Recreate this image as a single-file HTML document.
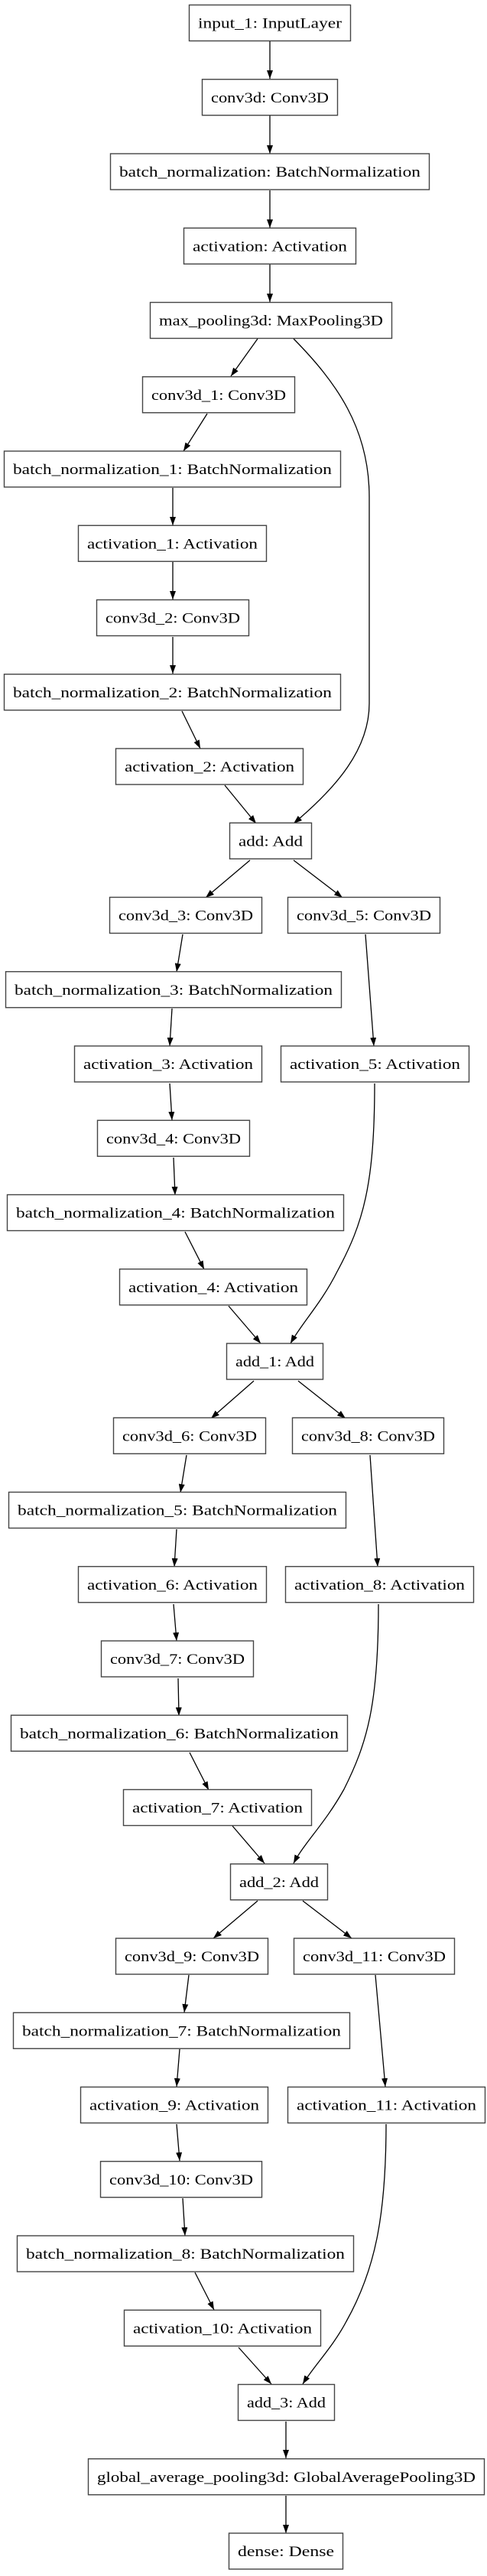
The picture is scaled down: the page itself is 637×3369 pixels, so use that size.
<!DOCTYPE html>
<html><head><meta charset="utf-8"><style>
html,body{margin:0;padding:0;background:#fff;}
svg{display:block;}
text{font-family:"Liberation Serif",serif;font-size:19px;fill:#000;}
rect{fill:#fff;stroke:#444;stroke-width:1.4;}
.e{fill:none;stroke:#000;stroke-width:1.3;marker-end:url(#ah);}
</style></head><body>
<svg width="637" height="3369" viewBox="0 0 637 3369" xmlns="http://www.w3.org/2000/svg">
<defs><marker id="ah" markerUnits="userSpaceOnUse" markerWidth="11" markerHeight="8" refX="11" refY="4" orient="auto"><path d="M0,0 L11,4 L0,8 z" fill="#000"/></marker></defs>
<g id="edges">
<path class="e" d="M353,54 L353,103"/>
<path class="e" d="M353,151 L353,201"/>
<path class="e" d="M353,249 L353,298"/>
<path class="e" d="M353,346 L353,395"/>
<path class="e" d="M337,443 L302,492"/>
<path class="e" d="M384,443 C440,500 483,560 483,650 L483,920 C483,980 440,1030 384,1077"/>
<path class="e" d="M271,541 L240,590"/>
<path class="e" d="M226,638 L226,687"/>
<path class="e" d="M226,735 L226,784"/>
<path class="e" d="M226,833 L226,881"/>
<path class="e" d="M238,930 L262,979"/>
<path class="e" d="M294,1027 L335,1077"/>
<path class="e" d="M327,1125 L269,1174"/>
<path class="e" d="M384,1125 L448,1174"/>
<path class="e" d="M239,1222 L231,1271"/>
<path class="e" d="M478,1222 L489,1368"/>
<path class="e" d="M225,1319 L222,1368"/>
<path class="e" d="M222,1417 L225,1465"/>
<path class="e" d="M227,1514 L229,1563"/>
<path class="e" d="M242,1611 L267,1660"/>
<path class="e" d="M299,1708 L341,1757"/>
<path class="e" d="M490,1417 C490,1550 475,1600 441,1663 C420,1705 395,1730 380,1757"/>
<path class="e" d="M332,1806 L276,1855"/>
<path class="e" d="M390,1806 L452,1855"/>
<path class="e" d="M244,1903 L236,1952"/>
<path class="e" d="M484,1903 L494,2049"/>
<path class="e" d="M231,2000 L228,2049"/>
<path class="e" d="M227,2098 L231,2146"/>
<path class="e" d="M233,2195 L234,2244"/>
<path class="e" d="M248,2292 L273,2341"/>
<path class="e" d="M304,2388 L346,2437"/>
<path class="e" d="M495,2098 C495,2230 480,2280 450,2340 C425,2385 398,2410 384,2437"/>
<path class="e" d="M337,2486 L279,2535"/>
<path class="e" d="M396,2486 L460,2535"/>
<path class="e" d="M247,2583 L241,2632"/>
<path class="e" d="M491,2583 L504,2729"/>
<path class="e" d="M235,2680 L231,2729"/>
<path class="e" d="M231,2778 L235,2826"/>
<path class="e" d="M239,2875 L242,2924"/>
<path class="e" d="M255,2972 L280,3021"/>
<path class="e" d="M312,3070 L355,3118"/>
<path class="e" d="M505,2778 C505,2900 490,2970 453,3036 C435,3070 410,3095 396,3118"/>
<path class="e" d="M374,3167 L374,3215"/>
<path class="e" d="M374,3264 L374,3313"/>
</g>
<g id="nodes"></g>
</svg>
<script>
var N=[
["input_1: InputLayer",247,459,0],
["conv3d: Conv3D",264,442,1],
["batch_normalization: BatchNormalization",144,562,2],
["activation: Activation",240,466,3],
["max_pooling3d: MaxPooling3D",196,513,4],
["conv3d_1: Conv3D",186,386,5],
["batch_normalization_1: BatchNormalization",5,446,6],
["activation_1: Activation",102,349,7],
["conv3d_2: Conv3D",126,326,8],
["batch_normalization_2: BatchNormalization",5,446,9],
["activation_2: Activation",151,397,10],
["add: Add",300,408,11],
["conv3d_3: Conv3D",143,343,12],
["conv3d_5: Conv3D",376,576,12],
["batch_normalization_3: BatchNormalization",7,447,13],
["activation_3: Activation",97,343,14],
["activation_5: Activation",367,614,14],
["conv3d_4: Conv3D",127,327,15],
["batch_normalization_4: BatchNormalization",9,450,16],
["activation_4: Activation",156,402,17],
["add_1: Add",296,423,18],
["conv3d_6: Conv3D",148,348,19],
["conv3d_8: Conv3D",382,581,19],
["batch_normalization_5: BatchNormalization",11,453,20],
["activation_6: Activation",102,349,21],
["activation_8: Activation",373,620,21],
["conv3d_7: Conv3D",132,332,22],
["batch_normalization_6: BatchNormalization",14,455,23],
["activation_7: Activation",161,408,24],
["add_2: Add",301,429,25],
["conv3d_9: Conv3D",151,351,26],
["conv3d_11: Conv3D",384,595,26],
["batch_normalization_7: BatchNormalization",17,458,27],
["activation_9: Activation",105,351,28],
["activation_11: Activation",376,635,28],
["conv3d_10: Conv3D",131,343,29],
["batch_normalization_8: BatchNormalization",22,463,30],
["activation_10: Activation",162,420,31],
["add_3: Add",311,438,32],
["global_average_pooling3d: GlobalAveragePooling3D",115,634,33],
["dense: Dense",299,449,34]
];
var g=document.getElementById('nodes'),ns="http://www.w3.org/2000/svg";
N.forEach(function(n){
 var y=6+97.25*n[3],w=n[2]-n[1];
 var r=document.createElementNS(ns,'rect');
 r.setAttribute('x',n[1]+0.5);r.setAttribute('y',y+0.5);r.setAttribute('width',w-1);r.setAttribute('height',47);
 g.appendChild(r);
 var t=document.createElementNS(ns,'text');
 t.setAttribute('x',n[1]+12);t.setAttribute('y',y+30.5);
 t.setAttribute('textLength',w-24);t.setAttribute('lengthAdjust','spacingAndGlyphs');
 t.textContent=n[0];g.appendChild(t);
});
</script>
</body></html>
